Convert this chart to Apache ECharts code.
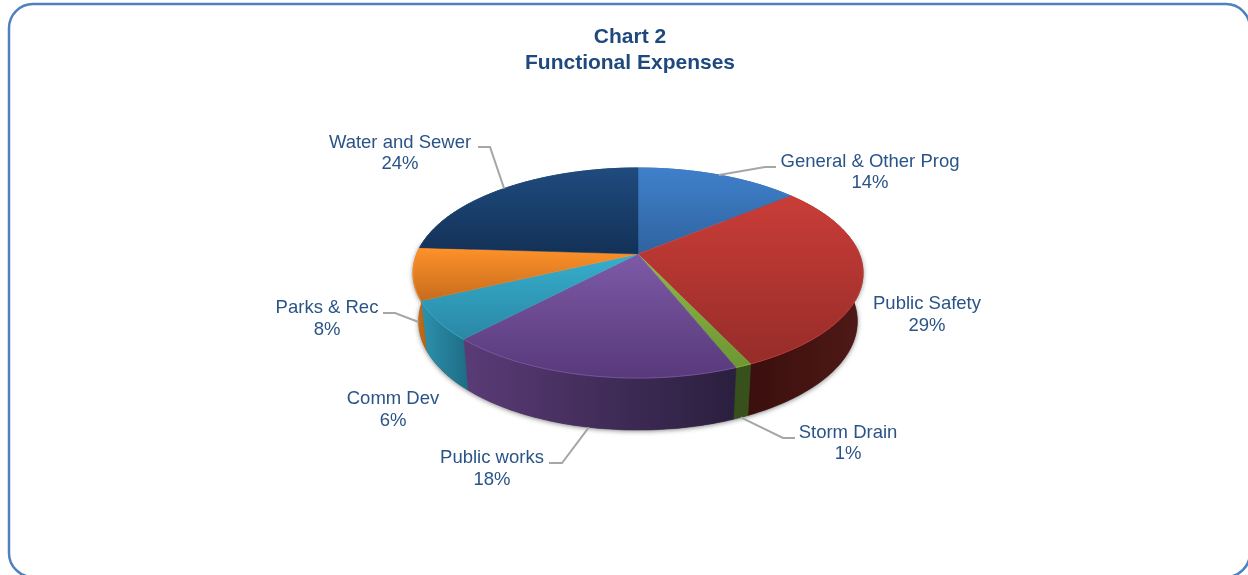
<!DOCTYPE html>
<html>
<head>
<meta charset="utf-8">
<style>
  html, body { margin: 0; padding: 0; background: #fff; overflow: hidden; }
  #chart { width: 1248px; height: 575px; }
</style>
<script src="https://cdn.jsdelivr.net/npm/echarts@6/dist/echarts.min.js"></script>
</head>
<body>
<div id="chart"></div>
<script>
// Functional expenses, share of total by function (percent)
const categories = ['General & Other Prog', 'Public Safety', 'Storm Drain', 'Public works', 'Comm Dev', 'Parks & Rec', 'Water and Sewer'];
const shares = [14, 29, 1, 18, 6, 8, 24];

// Face colours per slice: top of disc light and dark, wall left and right
const topLight = ['#3f80cb', '#ca3d38', '#8fb944', '#7d5aa6', '#35afcd', '#ff9229', '#1f4b7e'];
const topDark = ['#2f63a0', '#962c29', '#6c9733', '#58397b', '#2a87a5', '#c66c1d', '#133157'];
const wallLeft = ['#25497a', '#3a0f0d', '#37501c', '#5a3b76', '#2d92ad', '#d0731c', '#102a4a'];
const wallRight = ['#25497a', '#4f1916', '#37501c', '#2a1f3e', '#1e6c85', '#b5620f', '#102a4a'];

// Label placement: text centre and the elbow/end of its leader line
const labelCentres = [[870, 172.5], [927, 315], [848, 443.5], [492, 469], [393, 410], [327, 319], [400, 153.5]];
const leaderBends = [[[765, 167], [776, 167]], null, [[783, 438], [795, 438]], [[562, 463], [549, 463]], null, [[395, 313], [383, 313]], [[490, 147], [478, 147]]];
const leaderFromBase = [false, false, true, true, false, true, false];

// Perspective view of the disc; wall height grows toward the viewer
const view = { cx: 638, cy: 254, a: 221.3, b: 101.6, k: 0.181, depth: 47.5, depthNear: 4.5, baseShrink: 0.975 };

function rimPoint(pct, onBase) {
  const t = pct / 100 * Math.PI * 2;
  const u = Math.sin(t), v = -Math.cos(t);
  const w = 1 - view.k * v;
  const s = onBase ? view.baseShrink : 1;
  return [
    view.cx + s * view.a * u / w,
    view.cy + view.b * v / w + (onBase ? view.depth + view.depthNear * v : 0)
  ];
}

function arcPoints(from, to, onBase) {
  const steps = Math.max(2, Math.ceil((to - from) * 4));
  const pts = [];
  for (let i = 0; i <= steps; i++) pts.push(rimPoint(from + (to - from) * i / steps, onBase));
  return pts;
}

const sliceData = [];
shares.reduce((start, v, i) => {
  sliceData.push({ name: categories[i], value: [v, start] });
  return start + v;
}, 0);

function gradient(x2, y2, c0, c1) {
  return { type: 'linear', x: 0, y: 0, x2, y2, colorStops: [{ offset: 0, color: c0 }, { offset: 1, color: c1 }] };
}

function renderWall(params, api) {
  const i = params.dataIndex, start = api.value(1), end = start + api.value(0);
  const pts = arcPoints(start, end, false).concat(arcPoints(start, end, true).reverse());
  const fill = gradient(1, 0, wallLeft[i], wallRight[i]);
  return {
    type: 'polygon',
    shape: { points: pts },
    style: { fill, stroke: fill, lineWidth: 0.5 }
  };
}

function renderTop(params, api) {
  const i = params.dataIndex, start = api.value(1), end = start + api.value(0);
  const rim = arcPoints(start, end, false);
  const fill = gradient(0, 1, topLight[i], topDark[i]);
  return {
    type: 'group',
    children: [
      {
        type: 'polygon',
        shape: { points: [[view.cx, view.cy]].concat(rim) },
        style: { fill, stroke: fill, lineWidth: 0.5 }
      },
      {
        type: 'polyline',
        shape: { points: rim },
        style: { fill: 'none', stroke: topLight[i], lineWidth: 1, opacity: 0.75 }
      }
    ]
  };
}

function renderLabel(params, api) {
  const i = params.dataIndex, start = api.value(1), share = api.value(0);
  const children = [];
  if (leaderBends[i]) {
    children.push({
      type: 'polyline',
      shape: { points: [rimPoint(start + share / 2, leaderFromBase[i])].concat(leaderBends[i]) },
      style: { fill: 'none', stroke: '#a6a6a6', lineWidth: 2 }
    });
  }
  children.push({
    type: 'text',
    x: labelCentres[i][0],
    y: labelCentres[i][1],
    style: {
      text: categories[i] + '\n' + share + '%',
      fill: '#2a5488',
      font: '18.5px "Liberation Sans", Arial, sans-serif',
      lineHeight: 21.5,
      align: 'center',
      verticalAlign: 'middle'
    }
  });
  return { type: 'group', children };
}

// Soft drop shadow under the front of the disc only
const shadowOutline = arcPoints(23, 77, true).concat(arcPoints(23, 77, false).reverse());

const chart = echarts.init(document.getElementById('chart'));
chart.setOption({
  animation: false,
  backgroundColor: '#ffffff',
  title: {
    text: 'Chart 2\nFunctional Expenses',
    left: 625,
    top: 19,
    textAlign: 'center',
    textStyle: {
      fontFamily: '"Liberation Sans", Arial, sans-serif',
      fontSize: 21,
      fontWeight: 'bold',
      color: '#1f497d',
      lineHeight: 26
    }
  },
  graphic: [
    {
      type: 'rect',
      silent: true,
      z: 0,
      shape: { x: 9, y: 4, width: 1241, height: 573, r: 24 },
      style: { fill: 'none', stroke: '#4f81bd', lineWidth: 2.5 }
    },
    {
      type: 'polygon',
      silent: true,
      z: 0,
      shape: { points: shadowOutline },
      style: { fill: '#444', shadowColor: 'rgba(0,0,0,0.5)', shadowBlur: 5, shadowOffsetY: 1 }
    }
  ],
  series: [
    { type: 'custom', coordinateSystem: 'none', data: sliceData, renderItem: renderWall, z: 2, silent: true },
    { type: 'custom', coordinateSystem: 'none', data: sliceData, renderItem: renderTop, z: 3, silent: true },
    { type: 'custom', coordinateSystem: 'none', data: sliceData, renderItem: renderLabel, z: 4, silent: true }
  ]
});
</script>
</body>
</html>
